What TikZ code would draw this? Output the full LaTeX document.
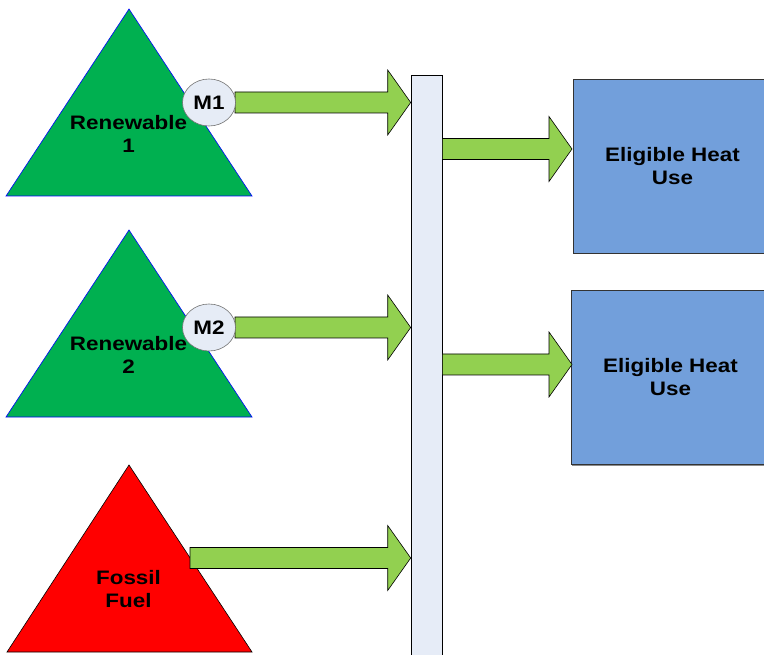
\documentclass[tikz,border=0pt]{standalone}
\usepackage{fontspec}
\setmainfont[FakeStretch=1.15]{Liberation Sans}
\usetikzlibrary{calc,shapes.geometric,shadows}

\definecolor{renew}{HTML}{00B050}
\definecolor{fossil}{HTML}{FF0000}
\definecolor{flow}{HTML}{92D050}
\definecolor{busfill}{HTML}{E6ECF7}
\definecolor{meterfill}{HTML}{E6ECF6}
\definecolor{heatfill}{HTML}{729FDB}

% horizontal block arrow from the x of #1 to the tip #2
\newcommand\blockarrow[2]{%
  \path[flowarrow] let \p1=(#1), \p2=(#2) in
    (\x1,\y2+10.5pt) -- (\x2-23pt,\y2+10.5pt) -- (\x2-23pt,\y2+32.5pt) --
    (\x2,\y2) -- (\x2-23pt,\y2-32.5pt) -- (\x2-23pt,\y2-10.5pt) --
    (\x1,\y2-10.5pt) -- cycle;}

\begin{document}
\begin{tikzpicture}[x=1pt,y=-1pt,
  lbl/.style={font=\bfseries\fontsize{19.5}{23}\selectfont, align=center, inner sep=0pt},
  source/.style={draw=blue, line width=0.6pt, fill=renew},
  fossilsrc/.style={draw=black, line width=0.6pt, fill=fossil},
  flowarrow/.style={draw=black, line width=0.6pt, fill=flow},
  meter/.style={ellipse, draw=black!55, line width=0.6pt, fill=meterfill,
    minimum width=53pt, minimum height=47pt, inner sep=0pt,
    font=\bfseries\fontsize{19.5}{23}\selectfont},
  busbar/.style={draw=black, line width=0.6pt, fill=busfill,
    minimum width=31pt, minimum height=590pt, inner sep=0pt,
    drop shadow={shadow xshift=1.3pt, shadow yshift=-1.3pt, fill=black!45, opacity=1}},
  heat/.style={draw=black!80, line width=0.6pt, fill=heatfill,
    minimum width=199pt, minimum height=174pt, inner sep=0pt, align=center,
    font=\bfseries\fontsize{19.5}{23}\selectfont,
    drop shadow={shadow xshift=1.3pt, shadow yshift=-1.3pt, fill=black!45, opacity=1}}]
\clip (0,0) rectangle (764,655);
\fill[white] (0,0) rectangle (764,655);

% energy sources
\path[source] (6,196) -- (129,9) -- (252,196) -- cycle;
\path[source] (6,417) -- (129,230) -- (252,417) -- cycle;
\path[fossilsrc] (7,652) -- (129,465) -- (252,652) -- cycle;
\node[lbl] (r1) at (128.5,133.5) {Renewable\\1};
\node[lbl] (r2) at (128.5,354.5) {Renewable\\2};
\node[lbl] (ff) at (128.5,589.5) {Fossil\\Fuel};

% common header and heat uses
\node[busbar] (bus) at (426.5,370) {};
\node[heat] (heat1) at (672.5,166) {Eligible Heat\\Use};
\node[heat] (heat2) at (670.5,377.5) {Eligible Heat\\Use};

% flows
\coordinate (ffout) at (190,558);
\coordinate (h1in) at (572,149);
\coordinate (h2in) at (572,364.5);
\blockarrow{bus.east}{h1in}
\blockarrow{bus.east}{h2in}
\blockarrow{ffout}{bus.west |- ffout}

% meters on top of their outgoing flows
\coordinate (m1c) at (209,102.5);
\coordinate (m2c) at (209,327.5);
\blockarrow{235,102.5}{bus.west |- m1c}
\blockarrow{235,327.5}{bus.west |- m2c}
\node[meter] (m1) at (m1c) {M1};
\node[meter] (m2) at (m2c) {M2};
\end{tikzpicture}
\end{document}
